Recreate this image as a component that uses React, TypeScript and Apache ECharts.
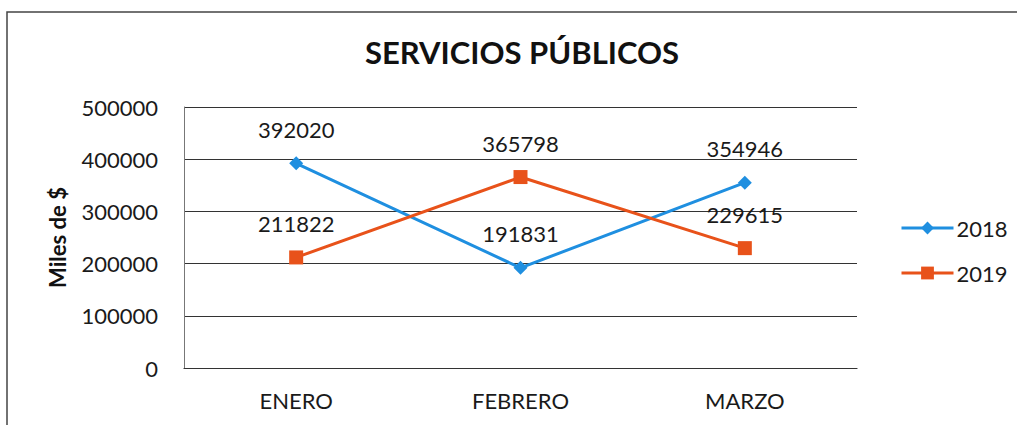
import React, { useEffect, useRef } from "react";
import * as echarts from "echarts";

const categories = ["ENERO", "FEBRERO", "MARZO"];
const series2018 = [392020, 191831, 354946];
const series2019 = [211822, 365798, 229615];
const seriesNames = ["2018", "2019"];
const titleText = "SERVICIOS PÚBLICOS";
const yAxisName = "Miles de $";

const FONT = "Lato, 'Open Sans', sans-serif";

export default function App() {
  const ref = useRef<HTMLDivElement>(null);
  useEffect(() => {
    if (!ref.current) return;
    const chart = echarts.init(ref.current, null, { renderer: "svg" });
    const labelStyle = {
      show: true,
      position: "top" as const,
      distance: 16,
      fontSize: 22,
      fontFamily: FONT,
      color: "#1a1a1a",
    };
    chart.setOption({
      animation: false,
      backgroundColor: "#ffffff",
      title: {
        text: titleText,
        left: 517,
        top: 31,
        textAlign: "center",
        textStyle: { fontSize: 31, fontWeight: "bold", fontFamily: FONT, color: "#111" },
      },
      graphic: [
        {
          type: "rect",
          shape: { x: 7, y: 12, width: 1030, height: 440 },
          style: { fill: "none", stroke: "#444", lineWidth: 1.5 },
          silent: true,
        },
      ],
      legend: {
        orient: "vertical",
        left: 895,
        top: 212,
        itemWidth: 52,
        itemHeight: 16,
        itemGap: 23,
        lineStyle: { width: 3 },
        textStyle: { fontSize: 22, fontFamily: FONT, color: "#1a1a1a", padding: [0, 0, 0, -2] },
        data: seriesNames,
      },
      grid: { left: 184, right: 160, top: 107, bottom: 57 },
      xAxis: {
        type: "category",
        data: categories,
        boundaryGap: true,
        axisLine: { show: true, lineStyle: { color: "#333", width: 1.2 } },
        axisTick: { show: false },
        axisLabel: { fontSize: 22, fontFamily: FONT, color: "#1a1a1a", margin: 21 },
      },
      yAxis: {
        type: "value",
        min: 0,
        max: 500000,
        interval: 100000,
        name: yAxisName,
        nameLocation: "middle",
        nameGap: 116,
        nameTextStyle: { fontSize: 22, fontWeight: "bold", fontFamily: FONT, color: "#111" },
        axisLine: { show: true, lineStyle: { color: "#777", width: 1 } },
        axisTick: { show: false },
        axisLabel: {
          fontSize: 22,
          fontFamily: FONT,
          color: "#1a1a1a",
          margin: 26,
          formatter: (v: number) => String(v),
        },
        splitLine: { show: true, lineStyle: { color: "#333", width: 1.2 } },
      },
      series: [
        {
          name: seriesNames[0],
          type: "line",
          data: series2018,
          color: "#1F8FE0",
          symbol: "diamond",
          symbolSize: 14,
          lineStyle: { width: 3 },
          label: labelStyle,
        },
        {
          name: seriesNames[1],
          type: "line",
          data: series2019,
          color: "#E8521A",
          symbol: "rect",
          symbolSize: 14,
          lineStyle: { width: 3 },
          label: labelStyle,
        },
      ],
    });
    return () => chart.dispose();
  }, []);
  return (
    <div
      ref={ref}
      style={{ position: "fixed", left: 0, top: 0, width: 1017, height: 425 }}
    />
  );
}
